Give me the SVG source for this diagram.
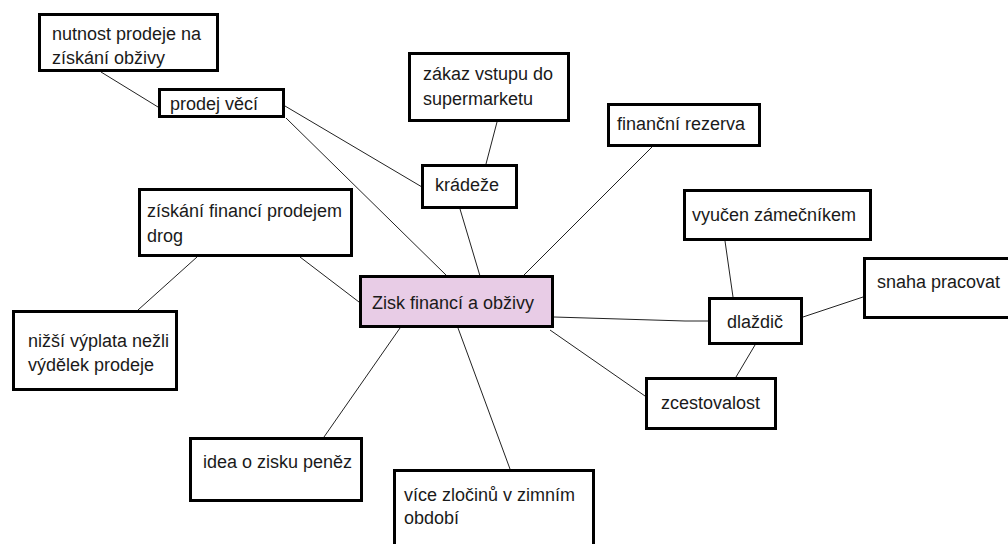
<svg xmlns="http://www.w3.org/2000/svg" width="1008" height="544" viewBox="0 0 1008 544">
<style>
.box{fill:#fff;stroke:#000;stroke-width:3}
.main{fill:#e8cce6;stroke:#000;stroke-width:3}
.t{font-family:"Liberation Sans",Arial,sans-serif;font-size:18px;fill:#1a1a1a}
.c{stroke:#222;stroke-width:1;fill:none}
</style>
<rect width="1008" height="544" fill="#fff"/>
<g id="connectors">
<line class="c" x1="101" y1="72" x2="158" y2="107"/>
<line class="c" x1="285" y1="106" x2="422" y2="187"/>
<line class="c" x1="286" y1="118" x2="447" y2="276"/>
<line class="c" x1="497" y1="122" x2="486" y2="164"/>
<line class="c" x1="460" y1="209" x2="480" y2="276"/>
<line class="c" x1="652" y1="147" x2="523" y2="276"/>
<line class="c" x1="300" y1="257" x2="359" y2="302"/>
<line class="c" x1="197" y1="257" x2="138" y2="310"/>
<line class="c" x1="400" y1="328" x2="324" y2="437"/>
<line class="c" x1="458" y1="328" x2="510" y2="469"/>
<polyline class="c" points="554,317 685,321 708,321"/>
<line class="c" x1="550" y1="330" x2="645" y2="396"/>
<line class="c" x1="725" y1="241" x2="733" y2="297"/>
<line class="c" x1="803" y1="317" x2="863" y2="297"/>
<line class="c" x1="755" y1="345" x2="736" y2="377"/>
</g>
<g id="n-nutnost"><rect class="box" x="39.5" y="14.5" width="178" height="56"/><text class="t" x="52" y="40">nutnost prodeje na</text><text class="t" x="52" y="64">získání obživy</text></g>
<g id="n-prodej"><rect class="box" x="159.5" y="89.5" width="124" height="27"/><text class="t" x="170" y="110">prodej věcí</text></g>
<g id="n-zakaz"><rect class="box" x="409.5" y="53.5" width="159" height="67"/><text class="t" x="423" y="80">zákaz vstupu do</text><text class="t" x="423" y="105">supermarketu</text></g>
<g id="n-kradeze"><rect class="box" x="422.5" y="165.5" width="94" height="42"/><text class="t" x="435" y="191">krádeže</text></g>
<g id="n-rezerva"><rect class="box" x="608.5" y="104.5" width="151" height="41"/><text class="t" x="617" y="130">finanční rezerva</text></g>
<g id="n-drogy"><rect class="box" x="139.5" y="189.5" width="212" height="66"/><text class="t" x="147" y="217">získání financí prodejem</text><text class="t" x="147" y="242">drog</text></g>
<g id="n-nizsi"><rect class="box" x="13.5" y="311.5" width="163" height="78"/><text class="t" x="28" y="347">nižší výplata nežli</text><text class="t" x="28" y="371">výdělek prodeje</text></g>
<g id="n-main"><rect class="main" x="360.5" y="276.5" width="192" height="50"/><text class="t" x="372" y="309">Zisk financí a obživy</text></g>
<g id="n-vyucen"><rect class="box" x="684.5" y="190.5" width="186" height="49"/><text class="t" x="692" y="221">vyučen zámečníkem</text></g>
<g id="n-snaha"><rect class="box" x="864.5" y="258.5" width="150" height="59"/><text class="t" x="877" y="288">snaha pracovat</text></g>
<g id="n-dlazdic"><rect class="box" x="709.5" y="298.5" width="92" height="45"/><text class="t" x="727" y="328">dlaždič</text></g>
<g id="n-zcestovalost"><rect class="box" x="646.5" y="378.5" width="129" height="50"/><text class="t" x="661" y="409">zcestovalost</text></g>
<g id="n-idea"><rect class="box" x="190.5" y="438.5" width="171" height="62"/><text class="t" x="203" y="468">idea o zisku peněz</text></g>
<g id="n-zlociny"><rect class="box" x="394.5" y="470.5" width="199" height="80"/><text class="t" x="404" y="501">více zločinů v zimním</text><text class="t" x="404" y="524">období</text></g>
</svg>
